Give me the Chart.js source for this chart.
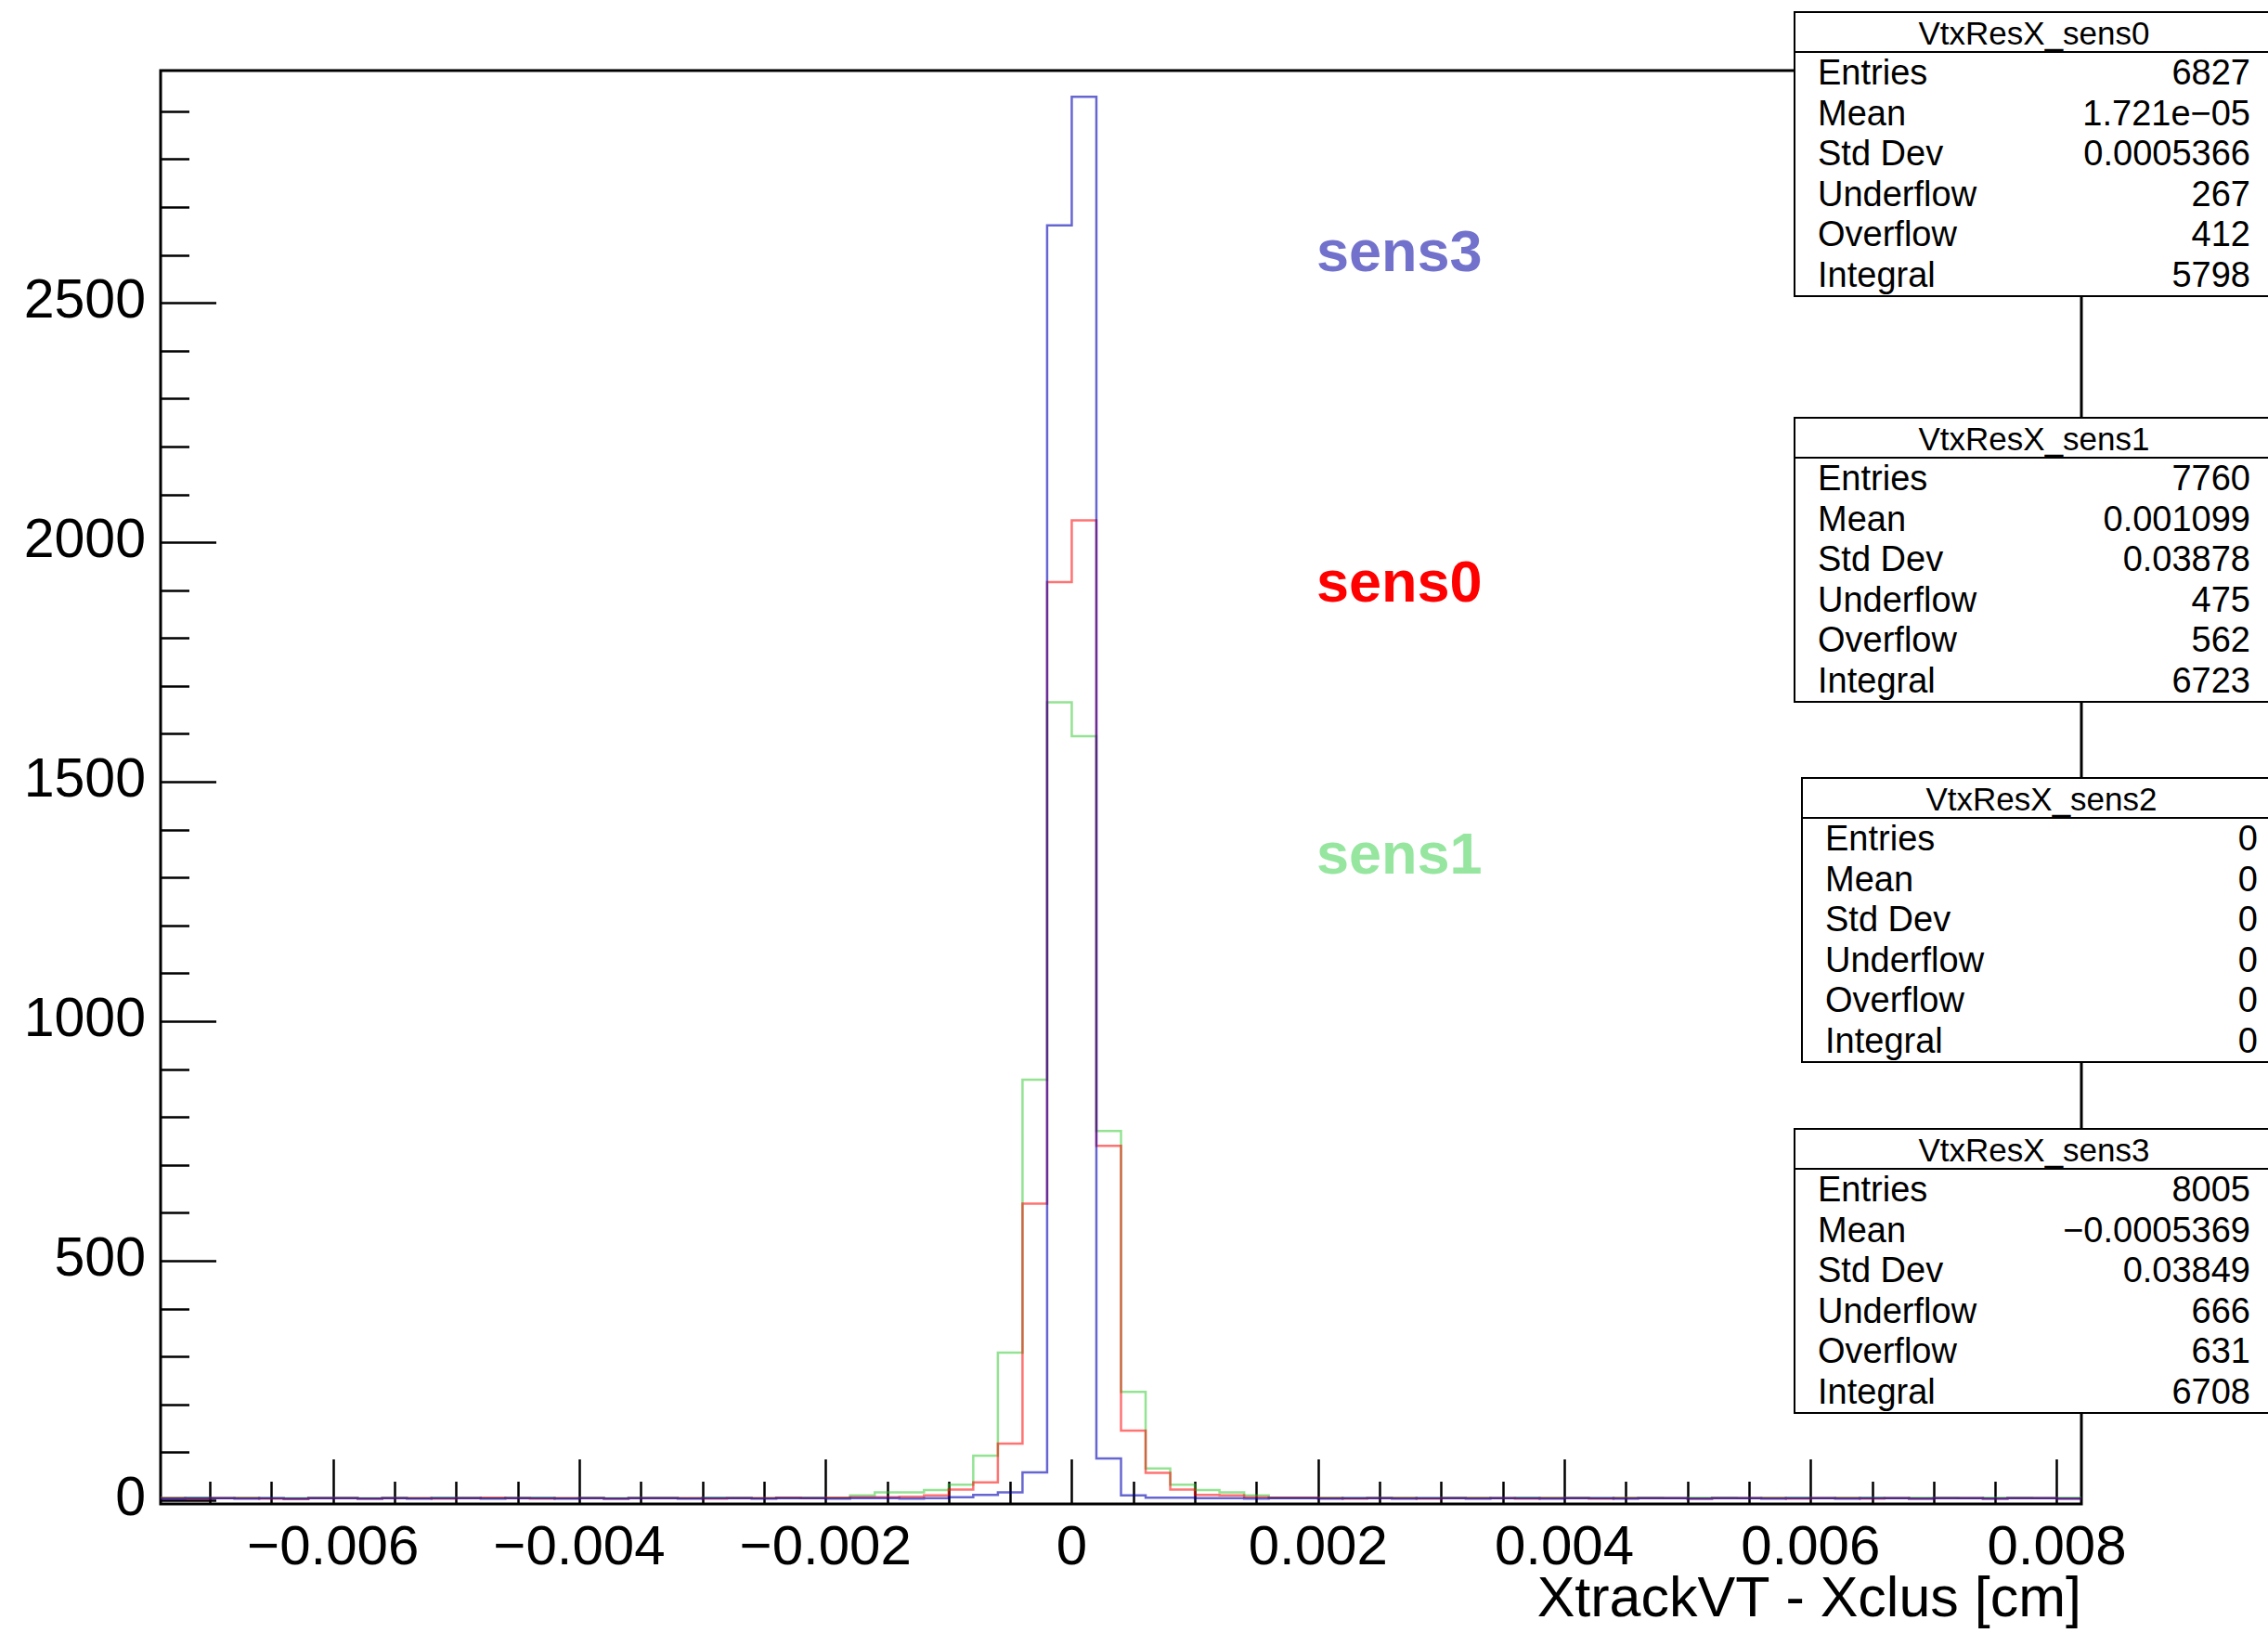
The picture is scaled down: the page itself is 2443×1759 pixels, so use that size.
<!DOCTYPE html>
<html>
<head>
<meta charset="utf-8">
<script src="https://cdn.jsdelivr.net/npm/chart.js@4.4.1/dist/chart.umd.min.js"></script>
<style>
  body { margin: 0; background: #fff; }
  #wrap { position: relative; width: 2443px; height: 1759px; overflow: hidden; font-family: 'Liberation Sans', Helvetica, Arial, sans-serif; }
  #chart { position: absolute; left: 0; top: 0; }
  .tag { position: absolute; font-weight: bold; font-size: 63px; line-height: 63px; white-space: nowrap; }
  .stat { position: absolute; width: 518px; height: 308px; background: #fff; border: 2px solid #000; box-sizing: border-box; }
  .stat .title { height: 41px; line-height: 43px; text-align: center; font-size: 35px; border-bottom: 2px solid #000; }
  .stat .row { display: flex; justify-content: space-between; height: 43.6px; line-height: 43.6px; font-size: 38px; padding: 0 24px 0 24px; }
</style>
</head>
<body>
<div id="wrap">
  <canvas id="chart" width="2443" height="1759"></canvas>
</div>
<script>
// histogram binning (78 bins of 0.0002 cm)
const xMin = -0.0074;
const xMax = 0.0082;
const binWidth = 0.0002;
const yMin = -8;
const yMax = 2985;

// bin contents, bin 0 = [-0.0074, -0.0072]
const sens0Counts = [
  4, 3, 4, 4, 3, 2, 4, 4, 3, 4, 4, 3, 4, 5, 4, 3, 4, 4, 3, 4,
  4, 4, 3, 4, 4, 5, 4, 5, 6, 6, 7,
  10, 22, 37, 118, 619, 1917, 2046, 740, 145, 57, 22, 11, 10, 6,
  5, 5, 4, 3, 4, 4, 3, 4, 4, 4, 3, 4, 4, 3, 4, 4, 4, 3, 4, 4,
  4, 3, 4, 4, 3, 4, 3, 4, 4, 3, 4, 4, 3
];
const sens1Counts = [
  5, 5, 4, 5, 4, 4, 5, 5, 4, 5, 4, 5, 5, 4, 5, 5, 4, 5, 4, 5,
  5, 4, 5, 5, 4, 5, 5,
  5, 10, 16, 16, 21, 32, 93, 308, 878, 1666, 1595, 771, 226, 66, 32, 21, 16, 10, 5, 5,
  5, 4, 5, 5, 4, 5, 5, 4, 5, 5, 5, 4, 5, 5, 4, 5, 5, 4, 5, 5,
  4, 5, 5, 4, 5, 5, 4, 5, 5, 4, 5
];
const sens3Counts = [
  3, 4, 4, 3, 4, 3, 4, 4, 3, 4, 3, 4, 4, 3, 4, 4, 3, 4, 3, 4,
  4, 3, 4, 4, 3, 4, 4, 3, 4, 4, 3, 4, 6,
  11, 16, 58, 2662, 2930, 87, 10, 5,
  5, 4, 4, 3, 4, 4, 3, 4, 4, 3, 4, 4, 3, 4, 4, 3, 4, 4, 3, 4,
  4, 3, 4, 4, 3, 4, 4, 3, 4, 4, 3, 4, 4, 3, 4, 4, 3
];

const xTickValues = [-0.006, -0.004, -0.002, 0, 0.002, 0.004, 0.006, 0.008];
const xTickLabels = ['\u22120.006', '\u22120.004', '\u22120.002', '0', '0.002', '0.004', '0.006', '0.008'];
const yTickValues = [0, 500, 1000, 1500, 2000, 2500];
const yTickLabels = ['0', '500', '1000', '1500', '2000', '2500'];
const xTitle = 'XtrackVT - Xclus [cm]';

const statRowNames = ['Entries', 'Mean', 'Std Dev', 'Underflow', 'Overflow', 'Integral'];
const statTitles = ['VtxResX_sens0', 'VtxResX_sens1', 'VtxResX_sens2', 'VtxResX_sens3'];
const statSens0 = ['6827', '1.721e\u221205', '0.0005366', '267', '412', '5798'];
const statSens1 = ['7760', '0.001099', '0.03878', '475', '562', '6723'];
const statSens2 = ['0', '0', '0', '0', '0', '0'];
const statSens3 = ['8005', '\u22120.0005369', '0.03849', '666', '631', '6708'];

const tagNames = ['sens3', 'sens0', 'sens1'];

// layout / style (not data)
const statBoxPos = [[1932, 12], [1932, 449], [1940, 837], [1932, 1215]];
const tagPos = [[1418, 270, '#7272cc'], [1418, 626, '#ff0000'], [1418, 919, '#96e6a0']];

const wrap = document.getElementById('wrap');

[statSens0, statSens1, statSens2, statSens3].forEach((vals, b) => {
  const box = document.createElement('div');
  box.className = 'stat';
  box.style.left = statBoxPos[b][0] + 'px';
  box.style.top = statBoxPos[b][1] + 'px';
  const t = document.createElement('div');
  t.className = 'title';
  t.textContent = statTitles[b];
  box.appendChild(t);
  statRowNames.forEach((name, r) => {
    const row = document.createElement('div');
    row.className = 'row';
    const a = document.createElement('span');
    a.textContent = name;
    const v = document.createElement('span');
    v.textContent = vals[r];
    row.appendChild(a);
    row.appendChild(v);
    box.appendChild(row);
  });
  wrap.appendChild(box);
});

tagNames.forEach((name, i) => {
  const el = document.createElement('div');
  el.className = 'tag';
  el.textContent = name;
  el.style.left = tagPos[i][0] + 'px';
  el.style.top = (tagPos[i][1] - 31) + 'px';
  el.style.color = tagPos[i][2];
  wrap.appendChild(el);
});

// one point per left bin edge, plus the last right edge
function histPoints(counts) {
  const pts = counts.map((c, i) => ({ x: xMin + i * binWidth, y: c }));
  pts.push({ x: xMin + counts.length * binWidth, y: counts[counts.length - 1] });
  return pts;
}

// ROOT style frame with inward ticks
const framePlugin = {
  id: 'rootFrame',
  beforeDatasetsDraw(chart) {
    const { ctx, chartArea: a, scales: { x, y } } = chart;
    ctx.save();
    ctx.strokeStyle = '#000';
    ctx.lineWidth = 2.5;
    ctx.beginPath();
    for (let v = -0.007; v <= 0.0081; v += 0.0005) {
      const val = Math.round(v * 10000) / 10000;
      const major = xTickValues.some(t => Math.abs(t - val) < 1e-9);
      const px = Math.round(x.getPixelForValue(val)) + 0.5;
      ctx.moveTo(px, a.bottom);
      ctx.lineTo(px, a.bottom - (major ? 48 : 24));
    }
    for (let v = 0; v <= yMax; v += 100) {
      const major = v % 500 === 0;
      const py = Math.round(y.getPixelForValue(v)) + 0.5;
      ctx.moveTo(a.left, py);
      ctx.lineTo(a.left + (major ? 60 : 31), py);
    }
    ctx.stroke();
    ctx.lineWidth = 3;
    ctx.strokeRect(a.left, a.top, a.right - a.left, a.bottom - a.top);
    ctx.restore();
  }
};

const font = { family: "'Liberation Sans', Helvetica, Arial, sans-serif" };

new Chart(document.getElementById('chart'), {
  type: 'line',
  data: {
    datasets: [
      { label: 'sens3', data: histPoints(sens3Counts), borderColor: 'rgba(0,0,180,0.6)' },
      { label: 'sens0', data: histPoints(sens0Counts), borderColor: 'rgba(255,0,0,0.55)' },
      { label: 'sens1', data: histPoints(sens1Counts), borderColor: 'rgba(40,200,40,0.5)' },
    ].map(d => ({ ...d, stepped: 'before', pointRadius: 0, borderWidth: 2.5, fill: false }))
  },
  options: {
    responsive: false,
    animation: false,
    layout: { padding: { top: 76, right: 201, left: 0, bottom: 0 } },
    plugins: { legend: { display: false }, tooltip: { enabled: false } },
    scales: {
      x: {
        type: 'linear', min: xMin, max: xMax,
        grid: { display: false, drawTicks: false },
        border: { display: false },
        afterBuildTicks: s => { s.ticks = xTickValues.map(v => ({ value: v })); },
        afterFit: s => { s.height = 139; },
        ticks: {
          autoSkip: false, maxRotation: 0, padding: 12, color: '#000',
          font: { ...font, size: 60, lineHeight: 1.2 },
          callback: v => xTickLabels[xTickValues.findIndex(t => Math.abs(t - v) < 1e-9)]
        },
        title: {
          display: true, text: xTitle, align: 'end', color: '#000',
          font: { ...font, size: 61, lineHeight: 1 }, padding: { top: 0, bottom: 4 }
        }
      },
      y: {
        type: 'linear', min: yMin, max: yMax,
        grid: { display: false, drawTicks: false },
        border: { display: false },
        afterBuildTicks: s => { s.ticks = yTickValues.map(v => ({ value: v })); },
        afterFit: s => { s.width = 173; },
        ticks: {
          padding: 16, color: '#000',
          font: { ...font, size: 59 },
          callback: v => yTickLabels[yTickValues.indexOf(v)]
        }
      }
    }
  },
  plugins: [framePlugin]
});
</script>
</body>
</html>
